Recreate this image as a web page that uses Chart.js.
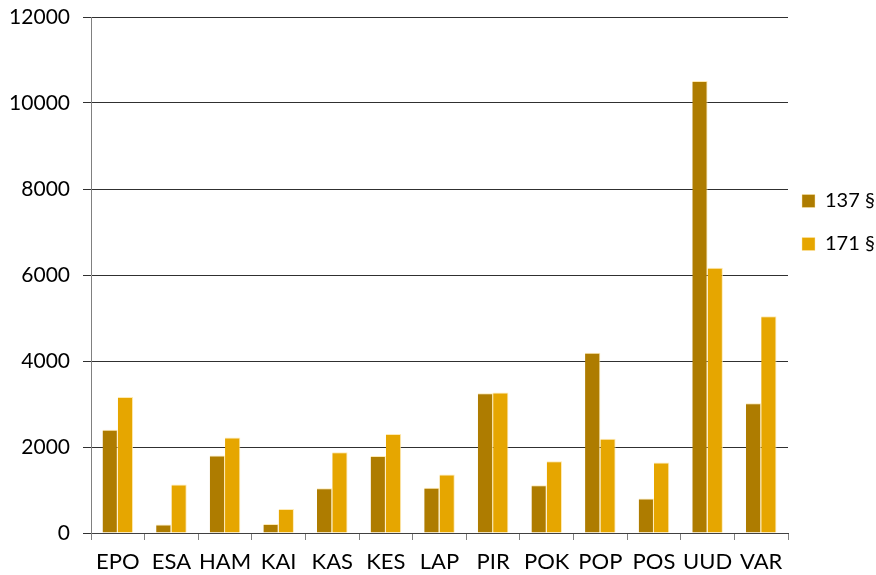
<!DOCTYPE html>
<html>
<head>
<meta charset="utf-8">
<script src="https://cdn.jsdelivr.net/npm/chart.js@4/dist/chart.umd.min.js"></script>
<style>
html,body{margin:0;padding:0;background:#fff;}
#wrap{width:876px;height:575px;}
</style>
</head>
<body>
<div id="wrap"><canvas id="c" width="876" height="575"></canvas></div>
<script>
const categories = ["EPO","ESA","HAM","KAI","KAS","KES","LAP","PIR","POK","POP","POS","UUD","VAR"];
const seriesNames = ["137 §","171 §"];
const values137 = [2400, 200, 1800, 210, 1040, 1790, 1050, 3250, 1110, 4190, 800, 10510, 3020];
const values171 = [3160, 1130, 2220, 560, 1880, 2300, 1360, 3270, 1670, 2190, 1640, 6170, 5040];
const yTicks = [0, 2000, 4000, 6000, 8000, 10000, 12000];

const FONT = "Lato, 'Open Sans', sans-serif";

const legendShift = {
  id: 'legendShift',
  afterLayout(chart) {
    const lg = chart.legend;
    if (lg) { lg.left -= 9; }
  }
};

new Chart(document.getElementById('c'), {
  type: 'bar',
  data: {
    labels: categories,
    datasets: [
      { label: seriesNames[0], data: values137, backgroundColor: '#AE7C00',
        borderColor: 'rgba(255,232,170,0.9)', borderWidth: {left:0, top:1, right:1, bottom:0}, borderSkipped: false },
      { label: seriesNames[1], data: values171, backgroundColor: '#E6A600',
        borderColor: 'rgba(255,232,170,0.9)', borderWidth: {left:0, top:1, right:1, bottom:0}, borderSkipped: false }
    ]
  },
  plugins: [legendShift],
  options: {
    responsive: false,
    animation: false,
    devicePixelRatio: 1,
    layout: { padding: { top: 17, left: 9, right: 0, bottom: 0 } },
    datasets: { bar: { categoryPercentage: 0.57, barPercentage: 1.0 } },
    scales: {
      x: {
        afterFit(axis) { axis.height = 42; },
        grid: { display: true, drawOnChartArea: false, drawTicks: true, tickLength: 7, color: '#808080', offset: true },
        border: { display: true, color: '#404040' },
        ticks: { color: '#000', font: { family: FONT, size: 22 }, padding: 9, maxRotation: 0, autoSkip: false }
      },
      y: {
        min: 0, max: 12000,
        afterBuildTicks(axis) { axis.ticks = yTicks.map(v => ({ value: v })); },
        afterFit(axis) { axis.width = 82; axis.paddingTop = 0; axis.paddingBottom = 0; },
        grid: { color: '#303030', lineWidth: 1, tickLength: 8, drawTicks: true },
        border: { display: true, color: '#808080' },
        ticks: { color: '#000', font: { family: FONT, size: 21 }, padding: 13, callback: v => String(v) }
      }
    },
    plugins: {
      tooltip: { enabled: false },
      legend: {
        position: 'right',
        align: 'start',
        maxWidth: 88,
        title: { display: true, text: ' ', font: { size: 10 }, padding: { top: 0, bottom: 139 } },
        labels: { color: '#000', font: { family: FONT, size: 20 }, boxWidth: 13, boxHeight: 13, padding: 23 }
      }
    }
  }
});
</script>
</body>
</html>
